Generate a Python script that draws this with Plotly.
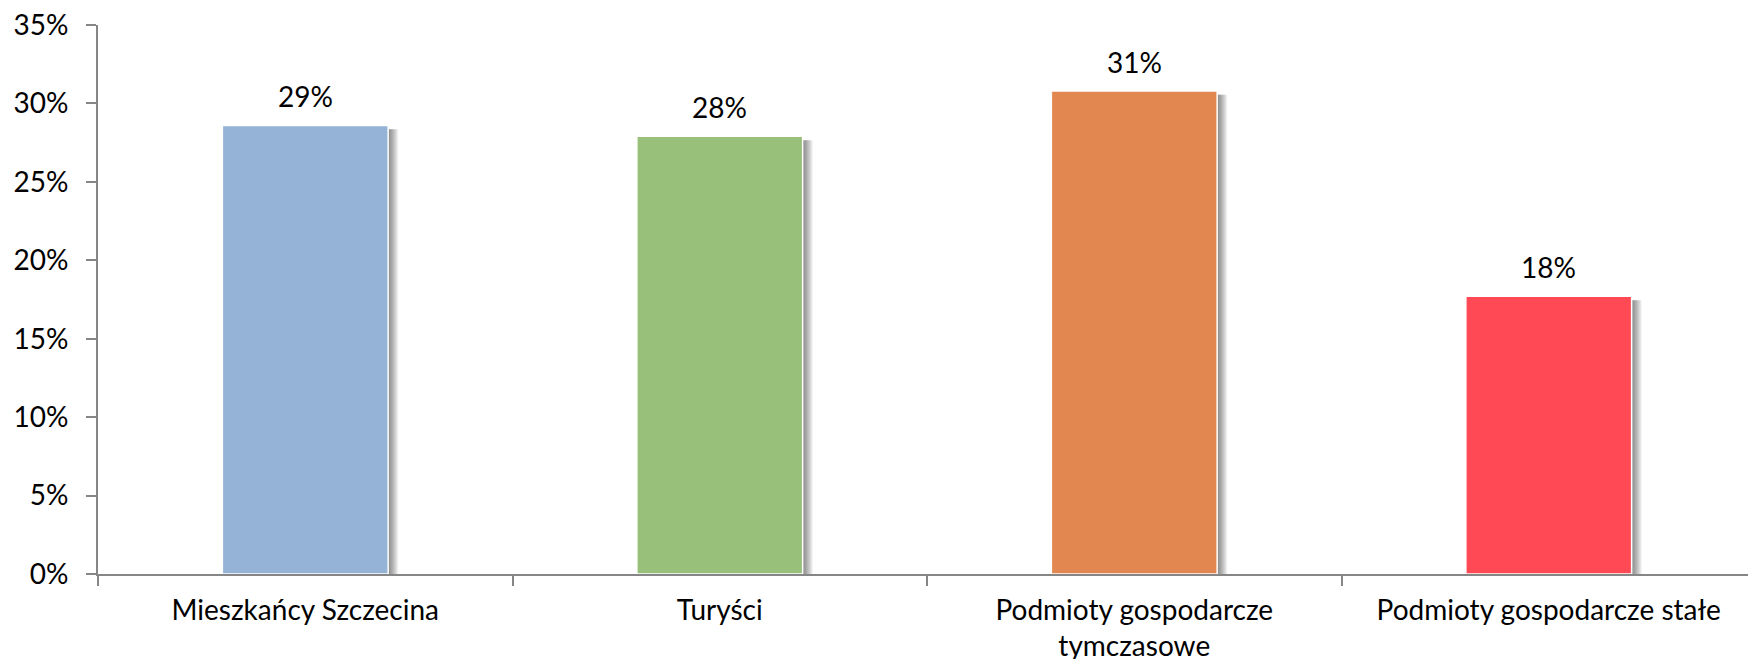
import plotly.graph_objects as go

categories = ['Mieszkańcy Szczecina', 'Turyści', 'Podmioty gospodarcze<br>tymczasowe', 'Podmioty gospodarcze stałe']
values = [28.6, 27.9, 30.8, 17.7]
labels = ['29%', '28%', '31%', '18%']
colors = ['#95B3D7', '#98C07A', '#E2874F', '#FF4A55']

font = 'Lato, "Open Sans", sans-serif'
fsize = 28
bar_w = 0.4
px = 1 / 414.5  # one pixel in category units

fig = go.Figure()

# blurred drop shadow on the right of each bar, built from thin layers
shadow_y = [v - 0.25 for v in values]
for k in range(10, 0, -1):
    fig.add_trace(go.Bar(
        x=categories, y=shadow_y, width=bar_w, offset=-bar_w / 2 + k * px,
        marker=dict(color='rgba(40,40,40,0.07)', line=dict(width=0)),
        hoverinfo='skip', showlegend=False,
    ))

fig.add_trace(go.Bar(
    x=categories, y=values, width=bar_w, offset=-bar_w / 2,
    marker=dict(color=colors, line=dict(color='white', width=1.5)),
    showlegend=False,
))

for cat, v, lab in zip(categories, values, labels):
    fig.add_annotation(x=cat, y=v, text=lab, showarrow=False, yanchor='bottom',
                       yshift=10, font=dict(family=font, size=fsize, color='black'))

# page body has an 8px margin, so the figure is a bit smaller than the window
fig.update_layout(
    width=1748, height=651,
    margin=dict(l=90, r=0, t=17, b=85),
    plot_bgcolor='white', paper_bgcolor='white',
    barmode='overlay',
    font=dict(family=font, size=fsize, color='black'),
)
fig.update_xaxes(
    automargin=False, ticklabeloverflow='allow',
    showline=True, linecolor='#868686', linewidth=2,
    ticks='outside', tickson='boundaries', ticklen=10, tickcolor='#868686', tickwidth=1.5,
    showgrid=False, tickfont=dict(size=fsize), ticklabelstandoff=10,
)
fig.update_yaxes(
    automargin=False, ticklabeloverflow='allow',
    range=[0, 35], dtick=5, ticksuffix='%',
    showline=True, linecolor='#868686', linewidth=2,
    ticks='outside', ticklen=10, tickcolor='#868686', tickwidth=1.5,
    showgrid=False, zeroline=False, tickfont=dict(size=fsize), ticklabelstandoff=12,
)

fig.write_html("out.html")
